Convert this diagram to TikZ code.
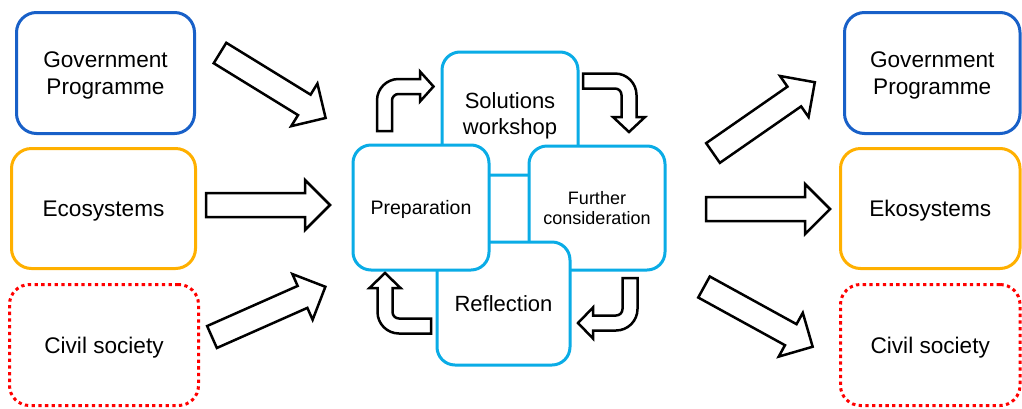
\documentclass[tikz,border=0pt]{standalone}
\usepackage{fontspec}
\setmainfont{Liberation Sans}
\definecolor{gpblue}{RGB}{24,96,200}
\definecolor{ecoorange}{RGB}{255,176,0}
\definecolor{civred}{RGB}{255,0,0}
\definecolor{cyc}{RGB}{10,172,230}
\newcommand\blockarr[2]{\draw[blockarrow, shift={#1}, rotate=#2] (0,-12) -- (99,-12) -- (99,-25) -- (124,0) -- (99,25) -- (99,12) -- (0,12) -- cycle;}
\begin{document}
\begin{tikzpicture}[x=1pt,y=-1pt,
  outerbox/.style={draw, line width=3pt, rounded corners=20pt, align=center,
    font=\fontsize{22.6}{27}\selectfont, inner sep=0pt, text depth=0pt},
  gpbox/.style={outerbox, draw=gpblue},
  ecobox/.style={outerbox, draw=ecoorange},
  civbox/.style={outerbox, draw=civred, dash pattern=on 3.3pt off 3.4pt},
  cycbox/.style={draw=cyc, fill=white, line width=3pt, rounded corners=18pt,
    align=center, inner sep=0pt, minimum width=136pt, text depth=0pt},
  bigtext/.style={font=\fontsize{22}{26.5}\selectfont},
  smalltext/.style={font=\fontsize{18}{20.5}\selectfont},
  preptext/.style={font=\fontsize{19.5}{22}\selectfont},
  blockarrow/.style={draw=black, fill=white, line width=2.5pt, line join=miter},
  bentarrow/.style={draw=black, fill=white, line width=2.5pt, line join=miter}]
\fill[white] (0,0) rectangle (1022,408);
\useasboundingbox (0,0) rectangle (1022,408);

% left boxes
\node[gpbox, minimum width=178pt, minimum height=121pt] (gpL) at (105.5,73) {Government\\Programme};
\node[ecobox, minimum width=184pt, minimum height=120pt] (ecoL) at (103.5,208.5) {Ecosystems};
\node[civbox, minimum width=189pt, minimum height=121pt] (civL) at (104,345) {Civil society};

% right boxes
\node[gpbox, minimum width=175.5pt, minimum height=121pt] (gpR) at (932.25,73) {Government\\Programme};
\node[ecobox, minimum width=179.5pt, minimum height=120pt] (ecoR) at (930.25,208.5) {Ekosystems};
\node[civbox, minimum width=179.5pt, minimum height=121pt] (civR) at (930.25,345) {Civil society};

% central cycle
\node[cycbox, bigtext, minimum height=123pt] (sol) at (510,113.5) {Solutions\\workshop};
\node[cycbox, smalltext, minimum height=124pt] (fur) at (597,208) {Further\\consideration};
\node[cycbox, bigtext, minimum width=133pt, minimum height=123pt] (ref) at (503.5,303.5) {Reflection};
\node[cycbox, preptext, minimum height=125pt] (pre) at (421,207.5) {Preparation};

% straight block arrows
\blockarr{(220,53)}{-31.6}
\blockarr{(206,205)}{0}
\blockarr{(212,337)}{23.9}
\blockarr{(713,153)}{34.8}
\blockarr{(706,209)}{0}
\blockarr{(704,287)}{-28.8}

% bent arrows
\draw[bentarrow] (377,131) -- (377,100.5) .. controls (377,88.63) and (386.63,79) .. (398.5,79)
  -- (420,79) -- (420,71.5) -- (433.5,86.5) -- (420,101.5) -- (420,94) -- (398.5,94)
  .. controls (394.91,94) and (392,96.91) .. (392,100.5) -- (392,131) -- cycle;
\draw[bentarrow] (583,73.5) -- (615,73.5) .. controls (626.87,73.5) and (636.5,83.13) .. (636.5,95)
  -- (636.5,117) -- (645,117) -- (629,132) -- (613,117) -- (621.5,117) -- (621.5,95)
  .. controls (621.5,91.41) and (618.59,88.5) .. (615,88.5) -- (583,88.5) -- cycle;
\draw[bentarrow] (622.5,278) -- (637.5,278) -- (637.5,309) .. controls (637.5,320.87) and (627.87,330.5) .. (616,330.5)
  -- (593,330.5) -- (593,338.5) -- (578,323) -- (593,307.5) -- (593,315.5) -- (616,315.5)
  .. controls (619.59,315.5) and (622.5,312.59) .. (622.5,309) -- cycle;
\draw[bentarrow] (431,333.5) -- (399,333.5) .. controls (387.13,333.5) and (377.5,323.87) .. (377.5,312)
  -- (377.5,288) -- (369.5,288) -- (385,273) -- (400.5,288) -- (392.5,288) -- (392.5,312)
  .. controls (392.5,315.59) and (395.41,318.5) .. (399,318.5) -- (431,318.5) -- cycle;
\end{tikzpicture}
\end{document}
